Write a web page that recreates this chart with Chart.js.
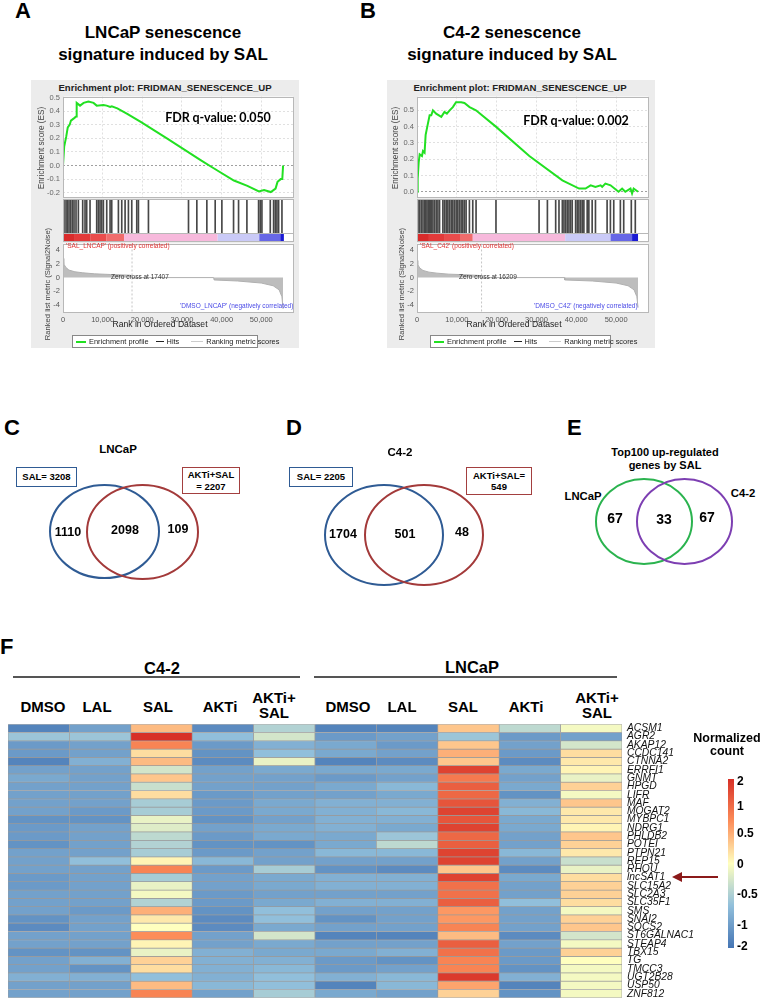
<!DOCTYPE html>
<html>
<head>
<meta charset="utf-8">
<script src="https://cdn.jsdelivr.net/npm/chart.js@4.4.1/dist/chart.umd.min.js"></script>
<style>
  body { margin: 0; background: #fff; }
  #page { position: relative; width: 764px; height: 999px; overflow: hidden; font-family: "Liberation Sans", Arial, sans-serif; }
  .t { position: absolute; white-space: nowrap; color: #000; line-height: 1.15; }
  .c { transform: translate(-50%, -50%); text-align: center; }
  .l { transform: translateY(-50%); }
  canvas { position: absolute; }
  .panelbg { position: absolute; background: #ececec; }
  .box { position: absolute; border: 1.5px solid; box-sizing: border-box; display: flex; align-items: center; justify-content: center; text-align: center; font-weight: bold; font-size: 9.5px; line-height: 1.2; }
  .sw { display: inline-block; flex-shrink: 0; }
</style>
</head>
<body>
<div id="page"></div>
<script>
// ---- GSEA data (rank, value) ----
const esA = [[0,0],[300,0.14],[800,0.21],[1200,0.28],[1700,0.30],[2000,0.33],[2900,0.35],[3300,0.36],[3450,0.46],[4300,0.44],[5200,0.46],[6400,0.47],[7700,0.46],[8500,0.44],[10200,0.445],[11000,0.44],[11900,0.43],[12300,0.435],[13700,0.42],[16200,0.38],[19600,0.32],[26200,0.20],[34700,0.04],[38000,-0.02],[43100,-0.11],[46500,-0.15],[49400,-0.19],[50700,-0.18],[52400,-0.195],[53600,-0.17],[54100,-0.12],[54900,-0.10],[55300,-0.10],[55500,0.0]];
const esB = [[0,0],[170,0.08],[420,0.18],[670,0.23],[1250,0.22],[1500,0.25],[1900,0.24],[2170,0.35],[2750,0.42],[3170,0.47],[3580,0.47],[4000,0.50],[4800,0.48],[6100,0.46],[6900,0.49],[7500,0.48],[8200,0.50],[9000,0.52],[9800,0.55],[11100,0.55],[11900,0.545],[13200,0.52],[14800,0.50],[19800,0.40],[28200,0.22],[36500,0.07],[40700,0.02],[42300,0.02],[43600,0.04],[44800,0.03],[46100,0.04],[46500,0.03],[47300,0.05],[48600,0.04],[50600,0.0],[51500,0.02],[52300,0.0],[53600,0.02],[54000,-0.01],[54400,0.02],[55500,0.0]];
const hitsA = [253,758,1094,1515,1936,2357,2777,3282,3872,4966,5555,5976,6817,8500,8921,9342,9763,10184,11026,11868,12289,13972,14814,15656,16497,17339,18601,19022,21547,31647,33751,36276,38380,40063,43009,44271,46375,49321,49742,50163,52267,53108,53529,53950,54371,55213];
const hitsB = [250,670,1080,1500,1920,2170,2500,2830,3170,3420,3670,4000,4410,4830,5250,5660,6500,6910,7330,7750,8160,8580,9000,9410,9830,10250,10660,11080,11500,11910,12330,13160,14000,14830,19830,30650,32740,34820,35650,36490,36900,37320,37730,38150,38570,38980,39820,40230,40650,41070,41480,41900,42730,43150,43980,44810,47730,48560,49400,51060,51900,53810,54810];
const rankedA = [[0,2.8],[200,2.0],[700,1.5],[1500,1.1],[3000,0.85],[5000,0.7],[8000,0.55],[12000,0.45],[17000,0.35],[17407,0],[38000,0],[38100,-0.35],[44000,-0.5],[50000,-0.8],[53000,-1.2],[54500,-1.8],[55200,-2.8],[55500,-4.6]];
const rankedB = [[0,2.5],[200,1.9],[700,1.4],[1500,1.05],[3000,0.8],[5000,0.65],[8000,0.5],[12000,0.42],[16000,0.3],[16209,0],[37000,0],[37100,-0.35],[44000,-0.5],[50000,-0.8],[53000,-1.2],[54500,-1.8],[55200,-2.8],[55500,-4.4]];
const rankTicks = [0, 10000, 20000, 30000, 40000, 50000];
const barStopsA = [0,3000,7000,11000,15400,39000,49500,54800,55700];
const barStopsB = [0,3000,7000,11000,14000,37200,48600,54000,55500];
const barColors = ['#d92b2b','#e33a3a','#ea4c4c','#f06c6c','#f7b9dc','#cacaf7','#6767e6','#1a1ad4'];

// ---- Venn counts ----
const vennCTotals = ['SAL= 3208', 'AKTi+SAL<br>= 2207'];
const vennCCounts = [1110, 2098, 109];
const vennDTotals = ['SAL= 2205', 'AKTi+SAL=<br>549'];
const vennDCounts = [1704, 501, 48];
const vennECounts = [67, 33, 67];

// ---- heatmap ----
const conditions = ['DMSO', 'LAL', 'SAL', 'AKTi', 'AKTi+<br>SAL'];
const genes = ['ACSM1','AGR2','AKAP12','CCDC141','CTNNA2','ERRFI1','GNMT','HPGD','LIFR','MAF','MOGAT2','MYBPC1','NDRG1','PHLDB2','POTEI','PTPN21','REP15','RHOU','lncSAT1','SLC15A2','SLC2A3','SLC35F1','SMS','SNAI2','SOCS2','ST6GALNAC1','STEAP4','TBX15','TG','TMCC3','UGT2B28','USP50','ZNF812'];
// columns: C4-2 DMSO, LAL, SAL, AKTi, AKTi+SAL, LNCaP DMSO, LAL, SAL, AKTi, AKTi+SAL
const heatValues = [
  [-1.8,-1.4,0.6,-1.7,-0.7, -1.8,-1.8,0.5,-0.6,-0.1],
  [-0.9,-0.9,2.0,-1.0,-0.4, -1.5,-1.4,-0.9,-1.5,-1.4],
  [-1.5,-1.4,1.1,-1.5,-1.2, -1.3,-1.5,0.5,-1.4,-0.4],
  [-1.5,-1.4,0.3,-1.6,-1.0, -1.3,-1.4,0.7,-1.5,0.3],
  [-1.8,-1.2,0.6,-1.7,-0.2, -1.8,-1.7,0.5,-1.7,0.2],
  [-1.4,-1.4,-0.4,-1.4,-1.3, -1.3,-1.3,1.8,-1.3,0.1],
  [-1.3,-1.4,0.5,-1.4,-1.4, -1.5,-1.4,1.2,-1.4,-0.2],
  [-1.4,-1.4,-0.5,-1.4,-1.4, -1.3,-1.1,1.5,-1.3,0.4],
  [-1.4,-1.4,0.3,-1.5,-1.4, -1.4,-1.3,1.4,-1.6,-0.1],
  [-1.4,-1.4,-0.8,-1.5,-1.3, -1.2,-1.2,1.6,-1.2,0.5],
  [-1.4,-1.5,-0.8,-1.5,-1.3, -1.2,-1.1,1.8,-1.1,0.2],
  [-1.6,-1.6,-0.2,-1.6,-1.4, -1.2,-1.2,1.6,-1.3,0.2],
  [-1.5,-1.4,-0.3,-1.4,-1.3, -1.2,-1.3,1.8,-1.3,0.1],
  [-1.5,-1.4,-0.6,-1.5,-1.3, -1.3,-0.9,1.4,-1.4,0.5],
  [-1.6,-1.4,-0.7,-1.6,-1.6, -1.3,-0.6,1.5,-1.4,0.4],
  [-1.4,-1.4,-0.8,-1.5,-1.4, -1.1,-1.1,1.8,-1.1,0.2],
  [-1.4,-1.0,0.1,-1.1,-1.4, -1.4,-1.4,1.8,-1.4,-0.5],
  [-1.4,-1.4,1.1,-1.5,-0.8, -1.6,-1.7,0.5,-1.7,-0.2],
  [-1.5,-1.4,-0.8,-1.4,-1.3, -1.2,-1.2,1.8,-1.3,0.3],
  [-1.5,-1.4,-0.2,-1.4,-1.3, -1.2,-1.2,1.3,-1.4,0.4],
  [-1.4,-1.4,-0.1,-1.5,-1.4, -1.4,-1.4,1.3,-1.4,0.4],
  [-1.4,-1.4,-0.7,-1.5,-1.3, -1.2,-1.2,1.5,-1.0,0.3],
  [-1.4,-1.5,0.7,-1.6,-1.0, -1.4,-1.4,0.9,-1.4,-0.1],
  [-1.6,-1.4,0.2,-1.7,-1.0, -1.6,-1.4,0.9,-1.4,0.4],
  [-1.7,-1.4,0.0,-1.7,-1.3, -1.4,-1.4,1.1,-1.4,0.5],
  [-1.4,-1.4,1.0,-1.4,-0.4, -1.8,-1.8,0.6,-1.7,-0.4],
  [-1.4,-1.4,0.1,-1.4,-1.3, -1.4,-1.4,1.5,-1.4,-0.1],
  [-1.6,-1.6,-0.2,-1.2,-1.3, -1.3,-1.2,1.3,-1.5,0.4],
  [-1.4,-1.2,0.4,-1.2,-1.2, -1.5,-1.6,1.1,-1.5,0.0],
  [-1.4,-1.6,0.3,-1.2,-1.1, -1.5,-1.4,1.1,-1.6,-0.1],
  [-1.2,-1.2,-1.0,-1.2,-1.0, -1.2,-1.1,1.9,-1.2,-0.1],
  [-1.4,-1.4,0.6,-1.1,-1.0, -1.8,-1.1,0.8,-1.8,-0.1],
  [-1.4,-1.4,1.1,-1.4,-0.8, -1.3,-1.4,0.4,-1.6,-0.1]
];
const legendTicks = ['2', '1', '0.5', '0', '-0.5', '-1', '-2'];

// ---------------------------------------------------------------
const page = document.getElementById('page');
Chart.defaults.font.family = '"Liberation Sans", Arial, sans-serif';
Chart.defaults.animation = false;
Chart.defaults.responsive = false;
Chart.defaults.plugins.legend.display = false;
Chart.defaults.plugins.tooltip.enabled = false;

function text(x, y, s, css, mode) {
  const d = document.createElement('div');
  d.className = 't ' + (mode || 'c');
  d.style.cssText = 'left:' + x + 'px;top:' + y + 'px;' + (css || '');
  d.innerHTML = s;
  page.appendChild(d);
  return d;
}
function mk(left, top, w, h) {
  const c = document.createElement('canvas');
  c.width = w; c.height = h;
  c.style.left = left + 'px'; c.style.top = top + 'px';
  page.appendChild(c);
  return c;
}
const setRankTicks = s => { s.ticks = rankTicks.map(v => ({ value: v })); };

const whiteArea = {
  id: 'whiteArea',
  beforeDraw(chart) {
    const a = chart.chartArea, ctx = chart.ctx;
    ctx.save(); ctx.fillStyle = '#fff';
    ctx.fillRect(a.left, a.top, a.right - a.left, a.bottom - a.top);
    ctx.restore();
  }
};
const frame = {
  id: 'frame',
  afterDraw(chart) {
    const a = chart.chartArea, ctx = chart.ctx;
    ctx.save(); ctx.strokeStyle = '#b8b8b8'; ctx.lineWidth = 1;
    ctx.strokeRect(Math.round(a.left) + 0.5, Math.round(a.top) + 0.5, Math.round(a.right - a.left), Math.round(a.bottom - a.top) - 1);
    ctx.restore();
  }
};

// ---- GSEA panel ----
function gsea(g) {
  const bg = document.createElement('div');
  bg.className = 'panelbg';
  bg.style.cssText = 'left:' + g.bgL + 'px;top:80px;width:268px;height:268px;';
  page.appendChild(bg);
  const W = g.plotR - g.plotL + 38;

  text(g.titleX, 88, 'Enrichment plot: FRIDMAN_SENESCENCE_UP', 'font-size:9.6px;font-weight:bold;color:#222;');

  // enrichment score
  new Chart(mk(g.plotL - 32, 89, W, 116), {
    type: 'line',
    data: { datasets: [{ data: g.es.map(p => ({ x: p[0], y: p[1] })), borderColor: '#22e022', borderWidth: 2, pointRadius: 0, tension: 0 }] },
    options: {
      layout: { padding: { top: 6, bottom: 6, left: 0, right: 6 } },
      scales: {
        x: { type: 'linear', min: 0, max: 58000, ticks: { display: false }, afterBuildTicks: setRankTicks,
             grid: { color: '#e0e0e0', drawTicks: false }, border: { display: false, dash: [2, 2] },
             afterFit: s => { s.height = 0; } },
        y: { min: g.esMin, max: g.esMax,
             ticks: { stepSize: 0.1, includeBounds: false, font: { size: 7.5 }, color: '#666', padding: 3, callback: v => v.toFixed(1) },
             grid: { color: c => (c.tick && Math.abs(c.tick.value) < 1e-9) ? '#a0a0a0' : '#e0e0e0', drawTicks: false },
             border: { display: false, dash: [2, 2] },
             afterFit: s => { s.width = 32; } }
      }
    },
    plugins: [whiteArea, frame]
  });

  // hits + colour bar
  const sep = {
    id: 'sep',
    afterDraw(chart) {
      const a = chart.chartArea, ctx = chart.ctx, y = Math.round(chart.scales.y.getPixelForValue(0.21)) + 0.5;
      ctx.save(); ctx.strokeStyle = '#b8b8b8'; ctx.beginPath(); ctx.moveTo(a.left, y); ctx.lineTo(a.right, y); ctx.stroke(); ctx.restore();
    }
  };
  new Chart(mk(g.plotL - 32, 199, W, 43), {
    type: 'bar',
    data: { datasets: [
      { type: 'bar', data: g.hits.map(r => ({ x: r, y: [0.21, 1] })), backgroundColor: '#474747', barThickness: 1, grouped: false },
      { type: 'line', data: g.barStops.map(r => ({ x: r, y: 0.105 })), borderWidth: 9, borderCapStyle: 'butt', pointRadius: 0,
        segment: { borderColor: c => barColors[c.p0DataIndex] } }
    ] },
    options: {
      layout: { padding: { left: 32, right: 6, top: 0, bottom: 0 } },
      scales: { x: { type: 'linear', offset: false, min: 0, max: 58000, display: false }, y: { min: 0, max: 1, display: false } }
    },
    plugins: [whiteArea, frame, sep]
  });

  // ranked list metric
  new Chart(mk(g.plotL - 32, 236, W, 88), {
    type: 'line',
    data: { datasets: [
      { data: g.ranked.map(p => ({ x: p[0], y: p[1] })), fill: 'origin', backgroundColor: '#bdbdbd', borderColor: '#b0b0b0', borderWidth: 1, pointRadius: 0, tension: 0 },
      { data: [{ x: g.zero, y: 5.3 }, { x: g.zero, y: -5.3 }], borderColor: '#c4c4c4', borderDash: [2, 2], borderWidth: 1, pointRadius: 0 }
    ] },
    options: {
      layout: { padding: { top: 6, right: 6, left: 0, bottom: 0 } },
      scales: {
        x: { type: 'linear', min: 0, max: 58000, afterBuildTicks: setRankTicks,
             ticks: { font: { size: 7.5 }, color: '#555', padding: 3, maxRotation: 0, autoSkip: false },
             grid: { display: false, drawTicks: false }, border: { display: false }, afterFit: s => { s.height = 12; } },
        y: { min: -5.05, max: 5, ticks: { stepSize: 2, includeBounds: false, font: { size: 7.5 }, color: '#555', padding: 3 },
             grid: { display: false, drawTicks: false }, border: { display: false }, afterFit: s => { s.width = 32; } }
      }
    },
    plugins: [whiteArea, frame]
  });

  text(g.plotL - 21, 148, 'Enrichment score (ES)', 'font-size:8.2px;color:#444;transform:translate(-50%,-50%) rotate(-90deg);');
  text(g.plotL - 15, 284, 'Ranked list metric (Signal2Noise)', 'font-size:7.6px;color:#444;transform:translate(-50%,-50%) rotate(-90deg);');
  text(g.plotL + 3, 246, g.posLabel, 'font-size:6.5px;color:#e03434;', 'l');
  text(g.negX, 306, g.negLabel, 'font-size:6.5px;color:#4a4ae6;', 'l');
  text(g.zeroX, 277, g.zeroLabel, 'font-size:6.5px;color:#333;', 'l');
  text(g.plotL + 97, 325, 'Rank in Ordered Dataset', 'font-size:8.6px;color:#222;');
  text(g.fdrX, g.fdrY, g.fdr, 'font-family:Lato,sans-serif;font-weight:bold;font-size:12.5px;letter-spacing:-0.1px;');

  const lg = document.createElement('div');
  lg.style.cssText = 'position:absolute;left:' + g.legL + 'px;top:335px;width:' + g.legW + 'px;height:13px;border:1px solid #888;background:#fff;box-sizing:border-box;display:flex;align-items:center;gap:3px;padding-left:3px;font-size:7.4px;color:#222;white-space:nowrap;';
  lg.innerHTML = '<span class="sw" style="width:10px;height:2px;background:#22e022"></span>Enrichment profile' +
    '<span class="sw" style="width:8px;height:1.5px;background:#222;margin-left:4px"></span>Hits' +
    '<span class="sw" style="width:12px;height:1px;background:#ccc;margin-left:9px"></span>Ranking metric scores';
  page.appendChild(lg);
}

// panel A
text(15, 11, 'A', 'font-size:22px;font-weight:bold;', 'l');
text(163, 33, 'LNCaP senescence', 'font-size:17px;font-weight:bold;');
text(163, 55, 'signature induced by SAL', 'font-size:17px;font-weight:bold;');
gsea({ bgL: 31, plotL: 63, plotR: 293, titleX: 165, es: esA, esMin: -0.235, esMax: 0.507, hits: hitsA, barStops: barStopsA,
  ranked: rankedA, zero: 17407, posLabel: "'SAL_LNCAP' (positively correlated)", negLabel: "'DMSO_LNCAP' (negatively correlated)",
  negX: 180, zeroX: 111, zeroLabel: 'Zero cross at 17407', fdr: 'FDR q-value: 0.050', fdrX: 218, fdrY: 118, legL: 72, legW: 186 });

// panel B
text(360, 11, 'B', 'font-size:22px;font-weight:bold;', 'l');
text(512, 33, 'C4-2 senescence', 'font-size:17px;font-weight:bold;');
text(512, 55, 'signature induced by SAL', 'font-size:17px;font-weight:bold;');
gsea({ bgL: 387, plotL: 417, plotR: 648, titleX: 520, es: esB, esMin: -0.035, esMax: 0.585, hits: hitsB, barStops: barStopsB,
  ranked: rankedB, zero: 16209, posLabel: "'SAL_C42' (positively correlated)", negLabel: "'DMSO_C42' (negatively correlated)",
  negX: 534, zeroX: 459, zeroLabel: 'Zero cross at 16209', fdr: 'FDR q-value: 0.002', fdrX: 576, fdrY: 121, legL: 430, legW: 181 });

// ---- Venn diagrams C, D, E ----
text(4, 428, 'C', 'font-size:22px;font-weight:bold;', 'l');
text(286, 428, 'D', 'font-size:22px;font-weight:bold;', 'l');
text(567, 428, 'E', 'font-size:22px;font-weight:bold;', 'l');
text(118, 450, 'LNCaP', 'font-size:11.5px;font-weight:bold;');
text(400, 453, 'C4-2', 'font-size:11.5px;font-weight:bold;');
text(665, 452, 'Top100 up-regulated', 'font-size:11px;font-weight:bold;');
text(665, 465, 'genes by SAL', 'font-size:11px;font-weight:bold;');
text(583, 496, 'LNCaP', 'font-size:11.3px;font-weight:bold;');
text(743, 493, 'C4-2', 'font-size:11.3px;font-weight:bold;');

function box(l, t, w, h, color, html) {
  const d = document.createElement('div');
  d.className = 'box';
  d.style.cssText = 'left:' + l + 'px;top:' + t + 'px;width:' + w + 'px;height:' + h + 'px;border-color:' + color + ';';
  d.innerHTML = html;
  page.appendChild(d);
}
box(16, 467, 61, 20, '#2f5b94', vennCTotals[0]);
box(182, 467, 58, 27, '#a33f3f', vennCTotals[1]);
box(289, 467, 64, 20, '#2f5b94', vennDTotals[0]);
box(466, 467, 66, 28, '#a33f3f', vennDTotals[1]);

const vennPlugin = {
  id: 'venn',
  afterDatasetsDraw(chart, args, opts) {
    const { ctx, scales: { x, y } } = chart;
    ctx.save();
    opts.ellipses.forEach(e => {
      const px = x.getPixelForValue(e.cx), py = y.getPixelForValue(e.cy);
      ctx.beginPath();
      ctx.ellipse(px, py, Math.abs(x.getPixelForValue(e.cx + e.rx) - px), Math.abs(y.getPixelForValue(e.cy + e.ry) - py), 0, 0, Math.PI * 2);
      ctx.strokeStyle = e.color; ctx.lineWidth = 2; ctx.stroke();
    });
    ctx.fillStyle = '#000'; ctx.textAlign = 'center'; ctx.textBaseline = 'middle';
    opts.labels.forEach(c => {
      ctx.font = 'bold ' + c.size + 'px "Liberation Sans", Arial, sans-serif';
      ctx.fillText(String(c.value), x.getPixelForValue(c.x), y.getPixelForValue(c.y));
    });
    ctx.restore();
  }
};
new Chart(mk(0, 470, 764, 125), {
  type: 'scatter',
  data: { datasets: [{ data: [], pointRadius: 0 }] },
  options: {
    layout: { padding: 0 },
    scales: { x: { min: 0, max: 764, display: false }, y: { min: 470, max: 595, reverse: true, display: false } },
    plugins: {
      venn: {
        ellipses: [
          { cx: 104.5, cy: 531.5, rx: 54.5, ry: 46.5, color: '#2f5b94' },
          { cx: 142.5, cy: 532, rx: 55.5, ry: 47, color: '#a33a3a' },
          { cx: 384, cy: 535, rx: 59, ry: 50, color: '#2f5b94' },
          { cx: 424, cy: 535, rx: 59, ry: 50, color: '#a33a3a' },
          { cx: 644, cy: 521.5, rx: 48, ry: 42.5, color: '#2bb34f' },
          { cx: 684.5, cy: 521.5, rx: 47.5, ry: 42.5, color: '#7d3fb2' }
        ],
        labels: [
          { value: vennCCounts[0], x: 68, y: 533, size: 12.5 },
          { value: vennCCounts[1], x: 125, y: 531, size: 12.5 },
          { value: vennCCounts[2], x: 178, y: 530, size: 12.5 },
          { value: vennDCounts[0], x: 343, y: 535, size: 12.5 },
          { value: vennDCounts[1], x: 405, y: 535, size: 12.5 },
          { value: vennDCounts[2], x: 462, y: 533, size: 12.5 },
          { value: vennECounts[0], x: 615, y: 519, size: 14 },
          { value: vennECounts[1], x: 664, y: 520, size: 14 },
          { value: vennECounts[2], x: 707, y: 518, size: 14 }
        ]
      }
    }
  },
  plugins: [vennPlugin]
});

// ---- heatmap F ----
text(0, 647, 'F', 'font-size:22px;font-weight:bold;', 'l');
text(162, 668, 'C4-2', 'font-size:16.5px;font-weight:bold;');
text(472, 667, 'LNCaP', 'font-size:16.5px;font-weight:bold;');
const hl1 = document.createElement('div'); hl1.style.cssText = 'position:absolute;left:13px;top:676px;width:287px;height:2px;background:#555;'; page.appendChild(hl1);
const hl2 = document.createElement('div'); hl2.style.cssText = 'position:absolute;left:314px;top:676px;width:303px;height:2px;background:#555;'; page.appendChild(hl2);
const condX = [43, 97, 158, 220, 274, 348, 402, 463, 526, 597];
condX.forEach((x, i) => {
  const lab = conditions[i % 5];
  text(x, lab.indexOf('<br>') > 0 ? 705 : 706, lab, 'font-size:15px;font-weight:bold;line-height:15px;');
});

const heatStops = [[-2, [69, 117, 180]], [-1, [145, 191, 219]], [0, [255, 255, 191]], [1, [252, 141, 89]], [2, [215, 48, 39]]];
function heatColor(v) {
  v = Math.max(-2, Math.min(2, v));
  for (let i = 0; i < heatStops.length - 1; i++) {
    const [a, ca] = heatStops[i], [b, cb] = heatStops[i + 1];
    if (v <= b) {
      const t = (v - a) / (b - a);
      return 'rgb(' + ca.map((c, k) => Math.round(c + (cb[k] - c) * t)).join(',') + ')';
    }
  }
}
const colKeys = ['C4-2 DMSO', 'C4-2 LAL', 'C4-2 SAL', 'C4-2 AKTi', 'C4-2 AKTi+SAL', 'LNCaP DMSO', 'LNCaP LAL', 'LNCaP SAL', 'LNCaP AKTi', 'LNCaP AKTi+SAL'];
new Chart(mk(8, 713, 700, 296), {
  type: 'bar',
  data: {
    labels: colKeys,
    datasets: genes.map((g, i) => ({
      label: g, data: heatValues[i].map(() => 1), backgroundColor: heatValues[i].map(heatColor),
      borderColor: '#9a9a9a', borderWidth: 0.7, borderSkipped: false, barPercentage: 1, categoryPercentage: 1
    }))
  },
  options: {
    layout: { padding: { top: 10, bottom: 10, left: 0, right: 0 } },
    scales: {
      x: { stacked: true, display: false },
      y: { stacked: true, min: 0, max: 33, reverse: true, display: false },
      y2: { type: 'category', labels: genes, position: 'right', offset: true,
            grid: { display: false, drawTicks: false }, border: { display: false },
            ticks: { font: { size: 10.3, style: 'italic' }, color: '#111', padding: 5, autoSkip: false },
            afterFit: s => { s.width = 86; } }
    }
  }
});

// colour legend
text(727, 738, 'Normalized', 'font-size:12.5px;font-weight:bold;');
text(727, 751, 'count', 'font-size:12.5px;font-weight:bold;');
const cb = document.createElement('div');
cb.style.cssText = 'position:absolute;left:728px;top:779px;width:6px;height:169px;background:linear-gradient(to bottom,#d73027,#fc8d59 25%,#ffffbf 50%,#91bfdb 75%,#4575b4);';
page.appendChild(cb);
const tickY = [782, 807, 834, 865, 895, 926, 947];
legendTicks.forEach((s, i) => text(737, tickY[i], s, 'font-size:12px;font-weight:bold;', 'l'));

// arrow to lncSAT1
const svgNS = 'http://www.w3.org/2000/svg';
const svg = document.createElementNS(svgNS, 'svg');
svg.setAttribute('width', '60'); svg.setAttribute('height', '14');
svg.style.cssText = 'position:absolute;left:668px;top:870px;';
svg.innerHTML = '<line x1="50" y1="7" x2="10" y2="7" stroke="#8b1a1a" stroke-width="2"/><polygon points="4,7 14,2 14,12" fill="#8b1a1a"/>';
page.appendChild(svg);
</script>
</body>
</html>
